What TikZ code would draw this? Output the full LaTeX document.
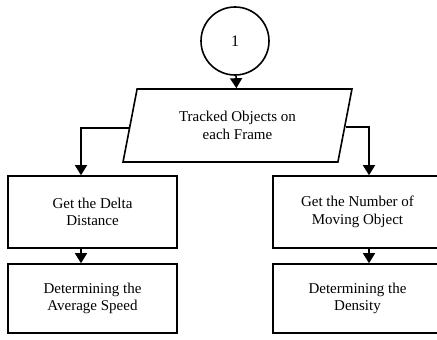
\documentclass[tikz,border=0pt]{standalone}
\usepackage{fontspec}
\setmainfont{Liberation Serif}
\usetikzlibrary{arrows.meta,positioning,shapes.geometric}

\begin{document}
\begin{tikzpicture}[
  x=1pt, y=-1pt,
  line width=1.6pt,
  box/.style={draw, align=center, minimum width=169pt, minimum height=72pt, font=\fontsize{15}{17.5}\selectfont},
  io/.style={draw, trapezium, trapezium left angle=76, trapezium right angle=104, trapezium stretches=true, align=center, minimum width=229pt, minimum height=73pt, font=\fontsize{15}{17.5}\selectfont},
  link/.style={draw, circle, minimum size=68pt, font=\fontsize{16}{18}\selectfont},
  arr/.style={-{Triangle[length=10pt,width=12pt]}, line width=1.6pt}
]
\useasboundingbox (0,0) rectangle (437,340);
\node[link] (start) at (235,41) {1};
\node[io] (track) at (237.5,125.5) {Tracked Objects on\\each Frame};
\node[box] (delta) at (92.5,212) {Get the Delta\\Distance};
\node[box] (count) at (357.5,212) {Get the Number of\\Moving Object};
\node[box, minimum height=69pt] (speed) at (92.5,298.5) {Determining the\\Average Speed};
\node[box, minimum height=69pt] (density) at (357.5,298.5) {Determining the\\Density};

\draw[arr] (start) -- (track);
\draw[arr] ([yshift=-2.5pt]track.west) -| ([xshift=-11.5pt]delta.north);
\draw[arr] ([yshift=-1.5pt]track.east) -| ([xshift=11.5pt]count.north);
\draw[arr] ([xshift=-11.5pt]delta.south) -- ([xshift=-11.5pt]speed.north);
\draw[arr] ([xshift=11.5pt]count.south) -- ([xshift=11.5pt]density.north);
\end{tikzpicture}
\end{document}
